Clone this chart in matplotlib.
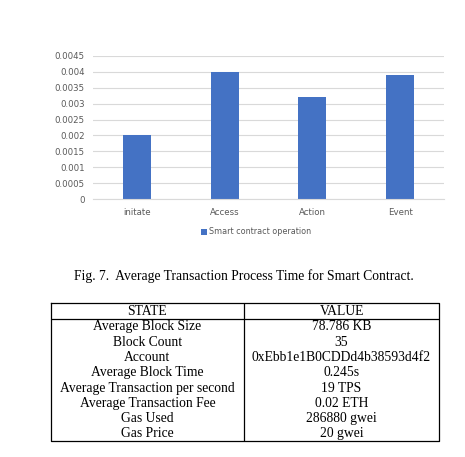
import matplotlib.pyplot as plt

# Дані графіка
categories = ['initate', 'Access', 'Action', 'Event']
times = [0.002, 0.004, 0.0032, 0.0039]
yticks = [0, 0.0005, 0.001, 0.0015, 0.002, 0.0025, 0.003, 0.0035, 0.004, 0.0045]
ytick_labels = ['0', '0.0005', '0.001', '0.0015', '0.002', '0.0025', '0.003', '0.0035', '0.004', '0.0045']

# Дані таблиці
states = ['Average Block Size', 'Block Count', 'Account', 'Average Block Time',
          'Average Transaction per second', 'Average Transaction Fee', 'Gas Used', 'Gas Price']
values = ['78.786 KB', '35', '0xEbb1e1B0CDDd4b38593d4f2', '0.245s',
          '19 TPS', '0.02 ETH', '286880 gwei', '20 gwei']

W, H = 465, 457
fig = plt.figure(figsize=(W / 100, H / 100), dpi=100)

# Стовпчикова діаграма
ax = fig.add_axes([93 / W, 1 - 199.3 / H, 351 / W, 143.6 / H])
bars = ax.bar(categories, times, width=0.32, color='#4472C4', label='Smart contract operation')
ax.set_ylim(0, 0.0045)
ax.set_xlim(-0.5, 3.5)
ax.set_yticks(yticks)
ax.set_yticklabels(ytick_labels)
ax.grid(axis='y', color='#D9D9D9', linewidth=0.8)
ax.set_axisbelow(True)
for s in ['top', 'right', 'left']:
    ax.spines[s].set_visible(False)
ax.spines['bottom'].set_color('#D9D9D9')
ax.tick_params(length=0, labelsize=6.2, labelcolor='#595959')
ax.tick_params(axis='y', pad=6)
ax.tick_params(axis='x', pad=6)

fig.legend(handles=[bars], loc='center', bbox_to_anchor=(256 / W, 1 - 232 / H),
           frameon=False, fontsize=5.8, labelcolor='#595959',
           handlelength=0.7, handleheight=0.7, handletextpad=0.3)

# Підпис
fig.text(244 / W, 1 - 276 / H, 'Fig. 7.  Average Transaction Process Time for Smart Contract.',
         ha='center', va='center', fontsize=9.8, family='Liberation Serif')

# Таблиця
tx0, tx1, ty0, ty1 = 50.7, 439, 303.3, 440.7
tax = fig.add_axes([tx0 / W, 1 - ty1 / H, (tx1 - tx0) / W, (ty1 - ty0) / H])
nrows = len(states) + 1
tax.set_xlim(0, 1)
tax.set_ylim(nrows, 0)
tax.axis('off')
lw = 0.9
tax.plot([0, 1, 1, 0, 0], [0, 0, nrows, nrows, 0], color='black', lw=lw, clip_on=False)
tax.plot([0, 1], [1, 1], color='black', lw=lw)
tax.plot([0.498, 0.498], [0, nrows], color='black', lw=lw)
rows = [('STATE', 'VALUE')] + list(zip(states, values))
for i, (s, v) in enumerate(rows):
    tax.text(0.249, i + 0.55, s, ha='center', va='center', fontsize=9.8, family='Liberation Serif')
    tax.text(0.749, i + 0.55, v, ha='center', va='center', fontsize=9.8, family='Liberation Serif')

fig.savefig('out.png', dpi=100)
